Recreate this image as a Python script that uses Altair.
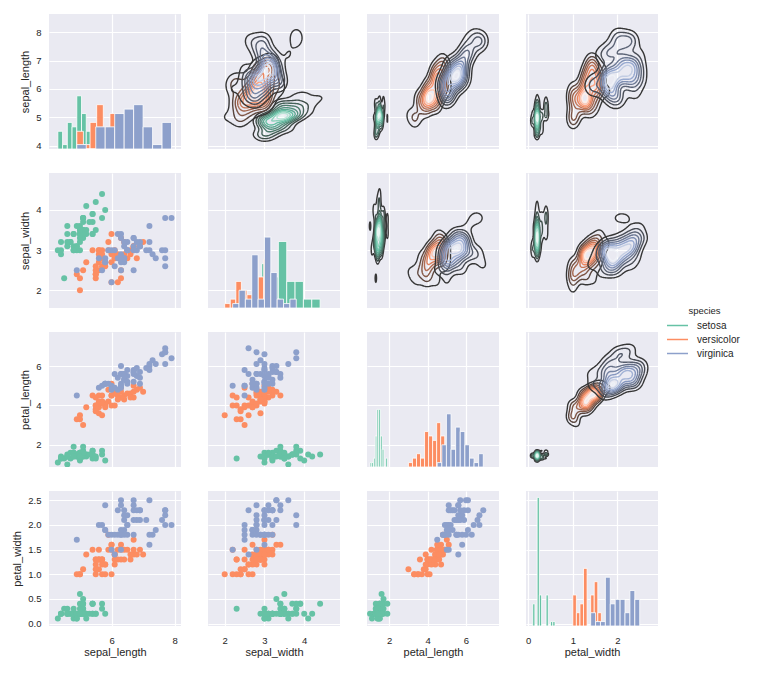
import numpy as np
import pandas as pd
import altair as alt

# ---------------- data (iris, as plotted) ----------------
sepal_length = [5.1,4.9,4.7,4.6,5.0,5.4,4.6,5.0,4.4,4.9,5.4,4.8,4.8,4.3,5.8,5.7,5.4,5.1,5.7,5.1,
                5.4,5.1,4.6,5.1,4.8,5.0,5.0,5.2,5.2,4.7,4.8,5.4,5.2,5.5,4.9,5.0,5.5,4.9,4.4,5.1,
                5.0,4.5,4.4,5.0,5.1,4.8,5.1,4.6,5.3,5.0,
                7.0,6.4,6.9,5.5,6.5,5.7,6.3,4.9,6.6,5.2,5.0,5.9,6.0,6.1,5.6,6.7,5.6,5.8,6.2,5.6,
                5.9,6.1,6.3,6.1,6.4,6.6,6.8,6.7,6.0,5.7,5.5,5.5,5.8,6.0,5.4,6.0,6.7,6.3,5.6,5.5,
                5.5,6.1,5.8,5.0,5.6,5.7,5.7,6.2,5.1,5.7,
                6.3,5.8,7.1,6.3,6.5,7.6,4.9,7.3,6.7,7.2,6.5,6.4,6.8,5.7,5.8,6.4,6.5,7.7,7.7,6.0,
                6.9,5.6,7.7,6.3,6.7,7.2,6.2,6.1,6.4,7.2,7.4,7.9,6.4,6.3,6.1,7.7,6.3,6.4,6.0,6.9,
                6.7,6.9,5.8,6.8,6.7,6.7,6.3,6.5,6.2,5.9]
sepal_width = [3.5,3.0,3.2,3.1,3.6,3.9,3.4,3.4,2.9,3.1,3.7,3.4,3.0,3.0,4.0,4.4,3.9,3.5,3.8,3.8,
               3.4,3.7,3.6,3.3,3.4,3.0,3.4,3.5,3.4,3.2,3.1,3.4,4.1,4.2,3.1,3.2,3.5,3.6,3.0,3.4,
               3.5,2.3,3.2,3.5,3.8,3.0,3.8,3.2,3.7,3.3,
               3.2,3.2,3.1,2.3,2.8,2.8,3.3,2.4,2.9,2.7,2.0,3.0,2.2,2.9,2.9,3.1,3.0,2.7,2.2,2.5,
               3.2,2.8,2.5,2.8,2.9,3.0,2.8,3.0,2.9,2.6,2.4,2.4,2.7,2.7,3.0,3.4,3.1,2.3,3.0,2.5,
               2.6,3.0,2.6,2.3,2.7,3.0,2.9,2.9,2.5,2.8,
               3.3,2.7,3.0,2.9,3.0,3.0,2.5,2.9,2.5,3.6,3.2,2.7,3.0,2.5,2.8,3.2,3.0,3.8,2.6,2.2,
               3.2,2.8,2.8,2.7,3.3,3.2,2.8,3.0,2.8,3.0,2.8,3.8,2.8,2.8,2.6,3.0,3.4,3.1,3.0,3.1,
               3.1,3.1,2.7,3.2,3.3,3.0,2.5,3.0,3.4,3.0]
petal_length = [1.4,1.4,1.3,1.5,1.4,1.7,1.4,1.5,1.4,1.5,1.5,1.6,1.4,1.1,1.2,1.5,1.3,1.4,1.7,1.5,
                1.7,1.5,1.0,1.7,1.9,1.6,1.6,1.5,1.4,1.6,1.6,1.5,1.5,1.4,1.5,1.2,1.3,1.4,1.3,1.5,
                1.3,1.3,1.3,1.6,1.9,1.4,1.6,1.4,1.5,1.4,
                4.7,4.5,4.9,4.0,4.6,4.5,4.7,3.3,4.6,3.9,3.5,4.2,4.0,4.7,3.6,4.4,4.5,4.1,4.5,3.9,
                4.8,4.0,4.9,4.7,4.3,4.4,4.8,5.0,4.5,3.5,3.8,3.7,3.9,5.1,4.5,4.5,4.7,4.4,4.1,4.0,
                4.4,4.6,4.0,3.3,4.2,4.2,4.2,4.3,3.0,4.1,
                6.0,5.1,5.9,5.6,5.8,6.6,4.5,6.3,5.8,6.1,5.1,5.3,5.5,5.0,5.1,5.3,5.5,6.7,6.9,5.0,
                5.7,4.9,6.7,4.9,5.7,6.0,4.8,4.9,5.6,5.8,6.1,6.4,5.6,5.1,5.6,6.1,5.6,5.5,4.8,5.4,
                5.6,5.1,5.1,5.9,5.7,5.2,5.0,5.2,5.4,5.1]
petal_width = [0.2,0.2,0.2,0.2,0.2,0.4,0.3,0.2,0.2,0.1,0.2,0.2,0.1,0.1,0.2,0.4,0.4,0.3,0.3,0.3,
               0.2,0.4,0.2,0.5,0.2,0.2,0.4,0.2,0.2,0.2,0.2,0.4,0.1,0.2,0.2,0.2,0.2,0.1,0.2,0.2,
               0.3,0.3,0.2,0.6,0.4,0.3,0.2,0.2,0.2,0.2,
               1.4,1.5,1.5,1.3,1.5,1.3,1.6,1.0,1.3,1.4,1.0,1.5,1.0,1.4,1.3,1.4,1.5,1.0,1.5,1.1,
               1.8,1.3,1.5,1.2,1.3,1.4,1.4,1.7,1.5,1.0,1.1,1.0,1.2,1.6,1.5,1.6,1.5,1.3,1.3,1.3,
               1.2,1.4,1.2,1.0,1.3,1.2,1.3,1.3,1.1,1.3,
               2.5,1.9,2.1,1.8,2.2,2.1,1.7,1.8,1.8,2.5,2.0,1.9,2.1,2.0,2.4,2.3,1.8,2.2,2.3,1.5,
               2.3,2.0,2.0,1.8,2.1,1.8,1.8,1.8,2.1,1.6,1.9,2.0,2.2,1.5,1.4,2.3,2.4,1.8,1.8,2.1,
               2.4,2.3,1.9,2.3,2.5,2.3,1.9,2.0,2.3,1.8]
species_names = ["setosa", "versicolor", "virginica"]
species = [s for s in species_names for _ in range(50)]
palette = ["#66c2a5", "#fc8d62", "#8da0cb"]

var_names = ["sepal_length", "sepal_width", "petal_length", "petal_width"]
x_ticks = [[6, 8], [2, 3, 4], [2, 4, 6], [0, 1, 2]]
y_ticks = [[4, 5, 6, 7, 8], [2, 3, 4], [2, 4, 6], [0.0, 0.5, 1.0, 1.5, 2.0, 2.5]]
x_domains = [[4.02, 8.2], [1.58, 4.9], [0.84, 7.72], [-0.05, 2.91]]
y_domains = [[3.88, 8.64], [1.56, 4.92], [0.87, 7.73], [-0.05, 2.69]]
y_formats = ["d", "d", "d", ".1f"]
hist_bins = 10
hist_top = 30.45

cols = {"sepal_length": np.array(sepal_length), "sepal_width": np.array(sepal_width),
        "petal_length": np.array(petal_length), "petal_width": np.array(petal_width)}
spec_arr = np.array(species)

W, H = 132, 135
BG = "#EAEAF2"


def hex2rgb(h):
    return np.array([int(h[i:i + 2], 16) for i in (1, 3, 5)]) / 255.0


def rgb2hex(c):
    c = np.clip(np.round(np.asarray(c) * 255), 0, 255).astype(int)
    return "#%02x%02x%02x" % tuple(c)


def level_color(color, t):
    dark = hex2rgb("#363636")
    c = hex2rgb(color)
    light = c + (1 - c) * 0.85
    knee = 0.68
    if t <= knee:
        rgb = dark + (c - dark) * (t / knee)
    else:
        rgb = c + (light - c) * ((t - knee) / (1 - knee))
    return rgb2hex(rgb)


def bw_scott(v):
    iqr = (np.percentile(v, 75) - np.percentile(v, 25)) / 1.349
    a = min(np.std(v, ddof=1), iqr) if iqr > 0 else np.std(v, ddof=1)
    return 1.059 * a * len(v) ** (-0.2)


def levels_for(zmin, zmax, nbins=11):
    raw = (zmax - zmin) / nbins
    scale = 10 ** np.floor(np.log10(raw))
    step = 10 * scale
    for s in [1, 1.5, 2, 2.5, 3, 4, 5, 6, 8, 10]:
        if s * scale >= raw * (1 - 1e-9):
            step = s * scale
            break
    lo = np.floor(zmin / step) * step
    levs = np.arange(lo, zmax + step, step)
    return [l for l in levs if zmin < l < zmax]


def contour_paths(xs, ys, Z, lev):
    above = Z > lev
    pts = {}
    adj = {}

    def pt(key):
        if key not in pts:
            kind, i, j = key
            if kind == "h":
                z0, z1 = Z[i, j], Z[i, j + 1]
                t = (lev - z0) / (z1 - z0)
                pts[key] = (xs[j] + t * (xs[j + 1] - xs[j]), ys[i])
            else:
                z0, z1 = Z[i, j], Z[i + 1, j]
                t = (lev - z0) / (z1 - z0)
                pts[key] = (xs[j], ys[i] + t * (ys[i + 1] - ys[i]))
        return key

    def link(a, b):
        adj.setdefault(pt(a), []).append(pt(b))
        adj.setdefault(b, []).append(a)

    a00 = above[:-1, :-1]; a01 = above[:-1, 1:]; a10 = above[1:, :-1]; a11 = above[1:, 1:]
    code = a00 * 1 + a01 * 2 + a11 * 4 + a10 * 8
    for i, j in np.argwhere((code > 0) & (code < 15)):
        B = ("h", i, j); T = ("h", i + 1, j); L = ("v", i, j); R = ("v", i, j + 1)
        e = []
        if a00[i, j] != a01[i, j]: e.append(B)
        if a01[i, j] != a11[i, j]: e.append(R)
        if a10[i, j] != a11[i, j]: e.append(T)
        if a00[i, j] != a10[i, j]: e.append(L)
        if len(e) == 2:
            link(e[0], e[1])
        elif len(e) == 4:
            center = (Z[i, j] + Z[i, j + 1] + Z[i + 1, j] + Z[i + 1, j + 1]) / 4 > lev
            c = code[i, j]
            if (c == 5 and center) or (c == 10 and not center):
                link(B, R); link(L, T)
            else:
                link(B, L); link(R, T)
    visited = set()
    paths = []
    starts = [k for k in adj if len(adj[k]) == 1] + [k for k in adj if len(adj[k]) != 1]
    for s in starts:
        if s in visited:
            continue
        path = [s]; visited.add(s); cur = s
        while True:
            nxt = [n for n in adj[cur] if n not in visited]
            if not nxt:
                if len(path) > 2 and s in adj[cur]:
                    path.append(s)
                break
            cur = nxt[0]; visited.add(cur); path.append(cur)
        paths.append([pts[k] for k in path])
    return paths


def kde_frame(xv, yv):
    rows = []
    pid = 0
    for k, sp in enumerate(species_names):
        m = spec_arr == sp
        x = cols[xv][m]; y = cols[yv][m]
        hx, hy = bw_scott(x), bw_scott(y)
        xs = np.linspace(x.min() - 3 * hx, x.max() + 3 * hx, 100)
        ys = np.linspace(y.min() - 3 * hy, y.max() + 3 * hy, 100)
        kx = np.exp(-0.5 * ((xs[:, None] - x[None, :]) / hx) ** 2) / (hx * np.sqrt(2 * np.pi))
        ky = np.exp(-0.5 * ((ys[:, None] - y[None, :]) / hy) ** 2) / (hy * np.sqrt(2 * np.pi))
        Z = ky @ kx.T / len(x)
        levs = levels_for(Z.min(), Z.max())
        lo, hi = levs[0], levs[-1]
        for lev in levs:
            t = 0.0 if hi == lo else (lev - lo) / (hi - lo)
            colr = level_color(palette[k], t)
            for p in contour_paths(xs, ys, Z, lev):
                for o, (px, py) in enumerate(p):
                    rows.append((pid, o, px, py, colr))
                pid += 1
    return pd.DataFrame(rows, columns=["pid", "ord", "x", "y", "hex"])


def hist_frame(v):
    rows = []
    for k, sp in enumerate(species_names):
        d = cols[v][spec_arr == sp]
        cnt, edges = np.histogram(d, bins=hist_bins)
        for i in range(hist_bins):
            rows.append((edges[i], edges[i + 1], 0.0, float(cnt[i]), palette[k]))
    return pd.DataFrame(rows, columns=["x", "x2", "y0", "cnt", "hex"])


def xenc(c, show):
    return alt.X("x:Q", scale=alt.Scale(domain=x_domains[c], nice=False, zero=False),
                 axis=alt.Axis(values=x_ticks[c], labels=show,
                               title=var_names[c] if show else None))


def yenc(r, show, axis=True):
    return alt.Y("y:Q", scale=alt.Scale(domain=y_domains[r], nice=False, zero=False),
                 axis=alt.Axis(values=y_ticks[r], labels=show, format=y_formats[r],
                               title=var_names[r] if show else None) if axis else None)


panels = []
for r in range(4):
    for c in range(4):
        sx, sy = r == 3, c == 0
        if r == c:
            v = var_names[c]
            carrier_df = pd.DataFrame({
                "x": [cols[v][spec_arr == sp][0] for sp in species_names],
                "y": [cols[v][spec_arr == sp][0] for sp in species_names],
                "species": species_names})
            if r == 0:
                carrier = alt.Chart(carrier_df).mark_line(strokeWidth=1.5).encode(
                    x=xenc(c, sx), y=yenc(r, sy),
                    color=alt.Color("species:N",
                                    scale=alt.Scale(domain=species_names, range=palette),
                                    legend=alt.Legend(
                                        title="species", orient="none",
                                        legendX=620.5, legendY=292,
                                        symbolType="M-1.5,0L1.5,0", symbolSize=196,
                                        symbolStrokeWidth=1.5, labelOffset=11.5,
                                        titleAnchor="middle", padding=0, titlePadding=2,
                                        rowPadding=1, labelFontSize=10, titleFontSize=9.5,
                                        titleFontWeight="normal", labelColor="#262626",
                                        titleColor="#262626")))
            else:
                carrier = alt.Chart(carrier_df).mark_point(opacity=0).encode(
                    x=xenc(c, sx), y=yenc(r, sy))
            hist = alt.Chart(hist_frame(v)).mark_rect(stroke="white", strokeWidth=0.8).encode(
                x=alt.X("x:Q", scale=alt.Scale(domain=x_domains[c], nice=False, zero=False)),
                x2="x2:Q",
                y=alt.Y("y0:Q", scale=alt.Scale(domain=[0, hist_top], nice=False), axis=None),
                y2="cnt:Q",
                color=alt.Color("hex:N", scale=None))
            p = alt.layer(carrier, hist).resolve_scale(y="independent")
        elif r > c:
            df = pd.DataFrame({"x": cols[var_names[c]], "y": cols[var_names[r]],
                               "hex": [palette[species_names.index(s)] for s in species]})
            p = alt.Chart(df).mark_circle(size=36, opacity=1, clip=True).encode(
                x=xenc(c, sx), y=yenc(r, sy), color=alt.Color("hex:N", scale=None))
        else:
            df = kde_frame(var_names[c], var_names[r])
            p = alt.Chart(df).mark_line(strokeWidth=1.4, clip=True).encode(
                x=xenc(c, sx), y=yenc(r, sy),
                detail="pid:N", order="ord:Q",
                color=alt.Color("hex:N", scale=None))
        panels.append(p.properties(width=W, height=H))

chart = alt.concat(*panels, columns=4, spacing={"row": 24, "column": 27}, bounds="flush").properties(
    padding={"left": 11, "top": 14, "right": 5, "bottom": 5},
    background="white",
).configure(font="Liberation Sans").configure_view(
    fill=BG, stroke=None
).configure_axis(
    grid=True, gridColor="white", gridWidth=1.2, domain=False, ticks=False, tickSize=0,
    labelColor="#262626", labelFontSize=9.5, titleColor="#262626", titleFontSize=11,
    titleFontWeight="normal",
).configure_axisX(labelPadding=9, titlePadding=2).configure_axisY(labelPadding=8, titlePadding=5)

chart.save("out.html", embed_options={"renderer": "svg", "actions": False})
